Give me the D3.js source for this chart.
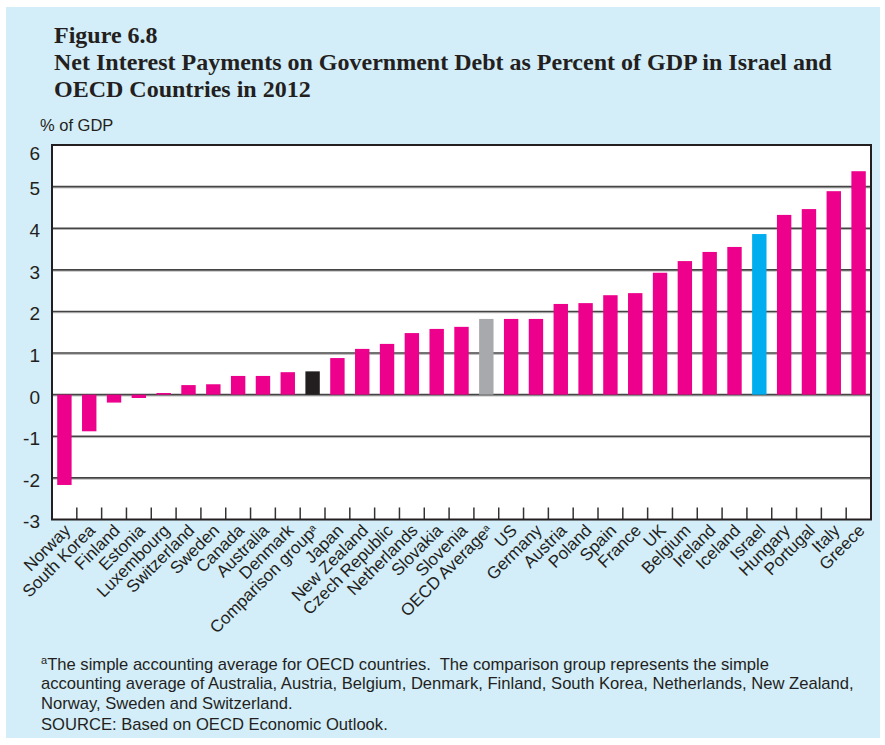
<!DOCTYPE html>
<html>
<head>
<meta charset="utf-8">
<script src="https://cdn.jsdelivr.net/npm/d3@7"></script>
<style>
  body { margin: 0; background: #fff; }
  text { font-family: "Liberation Sans", Arial, sans-serif; fill: #231f20; white-space: pre; }
</style>
</head>
<body>
<svg id="chart" width="885" height="745"></svg>
<script>
// data
let countries = ["Norway", "South Korea", "Finland", "Estonia", "Luxembourg", "Switzerland",
    "Sweden", "Canada", "Australia", "Denmark", "Comparison group", "Japan", "New Zealand",
    "Czech Republic", "Netherlands", "Slovakia", "Slovenia", "OECD Average", "US", "Germany",
    "Austria", "Poland", "Spain", "France", "UK", "Belgium", "Ireland", "Iceland", "Israel",
    "Hungary", "Portugal", "Italy", "Greece"];
let values = [-2.17, -0.88, -0.19, -0.08, 0.04, 0.23, 0.25, 0.45, 0.45, 0.54, 0.56, 0.88, 1.1,
    1.22, 1.48, 1.58, 1.63, 1.82, 1.82, 1.82, 2.18, 2.2, 2.39, 2.44, 2.93, 3.21, 3.43, 3.55,
    3.86, 4.32, 4.46, 4.89, 5.37];
let footnoted = ["Comparison group", "OECD Average"];
let yTicks = [6, 5, 4, 3, 2, 1, 0, -1, -2, -3];

let titleLines = ["Figure 6.8",
    "Net Interest Payments on Government Debt as Percent of GDP in Israel and",
    "OECD Countries in 2012"];
let noteLines = ["The simple accounting average for OECD countries.  The comparison group represents the simple",
    "accounting average of Australia, Austria, Belgium, Denmark, Finland, South Korea, Netherlands, New Zealand,",
    "Norway, Sweden and Switzerland.",
    "SOURCE: Based on OECD Economic Outlook."];

let magenta = "#ec008c";
function barColor(name) {
    if (name === "Israel") return "#00aeef";
    if (name === "OECD Average") return "#a7a9ac";
    if (name === "Comparison group") return "#231f20";
    return magenta;
}

let plot = {left: 52, right: 871, top: 145, bottom: 519.5};

let svg = d3.select("#chart");

// light blue panel
svg.append("rect")
    .attr("x", 6).attr("y", 7)
    .attr("width", 874).attr("height", 731)
    .attr("fill", "#d3edf9");

// title
svg.append("g").selectAll("text")
    .data(titleLines)
    .enter().append("text")
    .attr("x", 54)
    .attr("y", function (d, i) { return 43 + i * 27; })
    .style("font-family", "'Liberation Serif', 'Times New Roman', serif")
    .style("font-weight", "bold")
    .style("font-size", "24px")
    .text(function (d) { return d; });

svg.append("text")
    .attr("x", 40).attr("y", 131)
    .style("font-size", "16.5px")
    .text("% of GDP");

let x = d3.scaleBand()
    .domain(countries)
    .range([plot.left, plot.right])
    .paddingInner(0.42)
    .paddingOuter(0.21);

let y = d3.scaleLinear()
    .domain([-3, 6])
    .range([plot.bottom, plot.top]);

// plot background
svg.append("rect")
    .attr("x", plot.left).attr("y", plot.top)
    .attr("width", plot.right - plot.left)
    .attr("height", plot.bottom - plot.top)
    .attr("fill", "#fff");

// gridlines: dark line with light shadow underneath
let grid = svg.append("g");
yTicks.filter(function (d) { return d > -3 && d < 6; }).forEach(function (d) {
    grid.append("line")
        .attr("x1", plot.left).attr("x2", plot.right)
        .attr("y1", y(d) + 1.3).attr("y2", y(d) + 1.3)
        .attr("stroke", "#b5b5b5").attr("stroke-width", 1);
    grid.append("line")
        .attr("x1", plot.left).attr("x2", plot.right)
        .attr("y1", y(d)).attr("y2", y(d))
        .attr("stroke", "#444").attr("stroke-width", 1.6);
});

// bars
svg.append("g").selectAll("rect")
    .data(countries)
    .enter().append("rect")
    .attr("x", function (d) { return x(d); })
    .attr("width", x.bandwidth())
    .attr("y", function (d, i) { return y(Math.max(0, values[i])); })
    .attr("height", function (d, i) { return Math.abs(y(values[i]) - y(0)); })
    .attr("fill", barColor);

// inward tick marks on the bottom axis, at the category boundaries
let step = x.step();
svg.append("g").selectAll("line")
    .data(countries.slice(1))
    .enter().append("line")
    .attr("x1", function (d) { return x(d) - step * 0.21; })
    .attr("x2", function (d) { return x(d) - step * 0.21; })
    .attr("y1", plot.bottom).attr("y2", plot.bottom - 12)
    .attr("stroke", "#333").attr("stroke-width", 1.5);

// frame
svg.append("rect")
    .attr("x", plot.left).attr("y", plot.top)
    .attr("width", plot.right - plot.left)
    .attr("height", plot.bottom - plot.top)
    .attr("fill", "none")
    .attr("stroke", "#231f20").attr("stroke-width", 2);

// y tick labels
svg.append("g").selectAll("text")
    .data(yTicks)
    .enter().append("text")
    .attr("x", 40)
    .attr("y", function (d) { return y(d) + (d === 6 ? 8 : 2); })
    .attr("dy", "0.36em")
    .attr("text-anchor", "end")
    .style("font-size", "19px")
    .text(function (d) { return d; });

// x labels, rotated
let xl = svg.append("g").selectAll("text")
    .data(countries)
    .enter().append("text")
    .attr("text-anchor", "end")
    .attr("transform", function (d) {
        return "translate(" + (x(d) + x.bandwidth() / 2 + 7) + "," + (plot.bottom + 12) + ") rotate(-45)";
    })
    .style("font-size", "17px");
xl.append("tspan").text(function (d) { return d; });
xl.filter(function (d) { return footnoted.includes(d); })
    .append("tspan")
    .attr("dy", "-0.45em")
    .style("font-size", "10px")
    .text("a");

// footnote
let note = svg.append("g");
noteLines.forEach(function (line, i) {
    let t = note.append("text")
        .attr("x", 41)
        .attr("y", 668 + i * 20.5)
        .style("font-size", "16.6px");
    if (i === 0) {
        t.append("tspan").attr("dy", "-0.4em").style("font-size", "11px").text("a");
        t.append("tspan").attr("dy", "0.4em").text(line);
    } else {
        t.text(line);
    }
});
</script>
</body>
</html>
